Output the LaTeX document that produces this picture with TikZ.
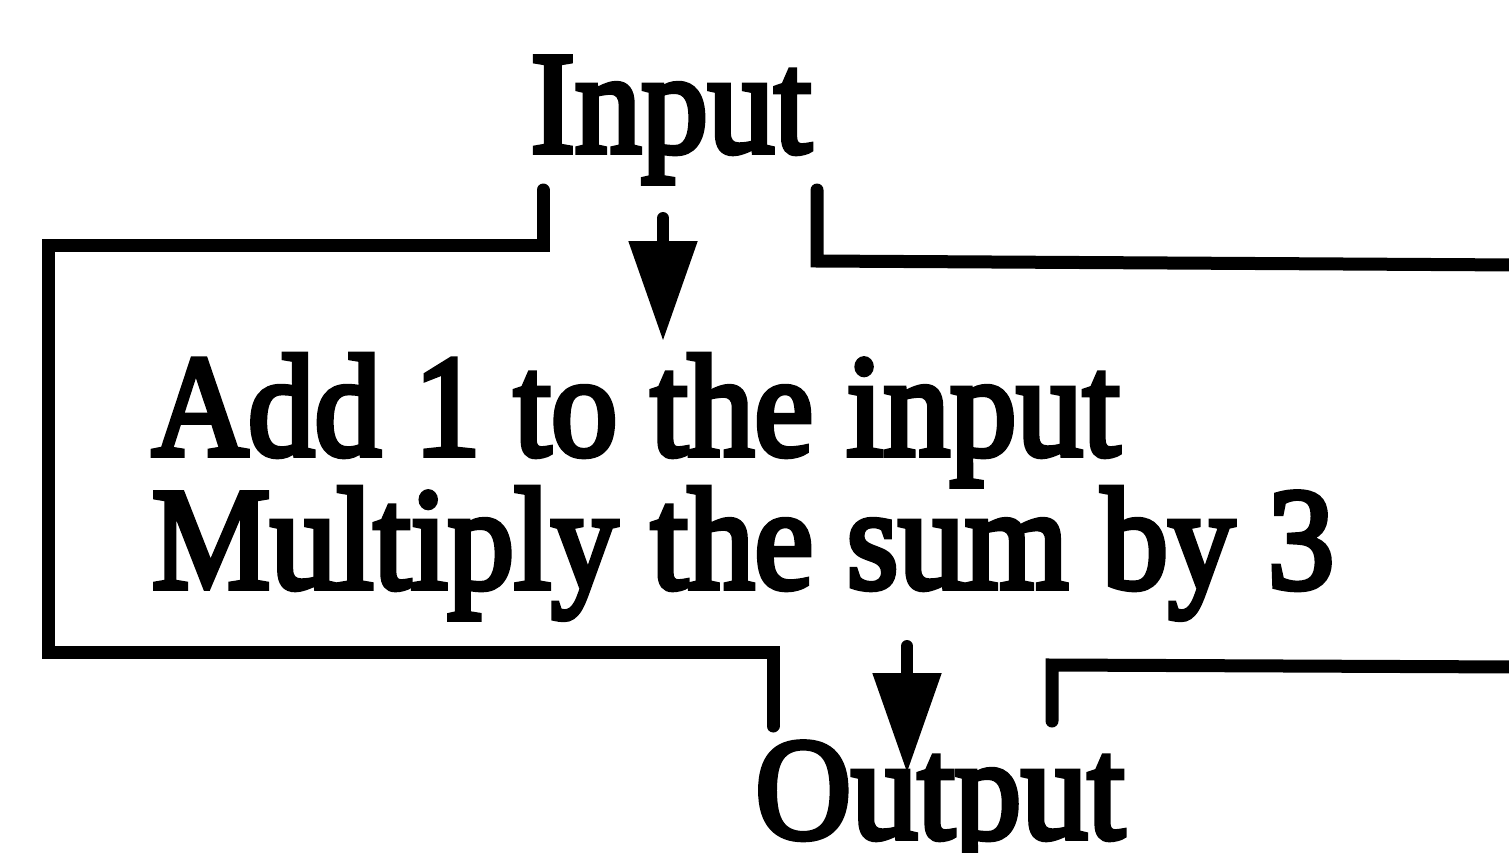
\documentclass[tikz,border=0pt]{standalone}
\usepackage{fontspec}
\setmainfont{Liberation Serif}[RawFeature={embolden=4}]
\usetikzlibrary{arrows.meta}
\tikzset{
  wire/.style={line width=13pt, line join=miter, line cap=round},
  flowarrow/.style={line width=12pt, -{Triangle[length=100pt,width=66pt]}, line cap=round},
  label/.style={inner sep=0pt, outer sep=0pt, font=\fontsize{133}{133}\selectfont}
}
\newcommand{\tallt}[1]{\scalebox{1}[1.09]{#1}}
\begin{document}
\begin{tikzpicture}[x=1pt,y=-1pt]
\useasboundingbox (0,0) rectangle (1509,852);
% texts
\node[label, anchor=base] (input) at (671,152) {\tallt{Input}};
\node[label, anchor=base west] (line1) at (152,455) {\tallt{Add 1 to the input}};
\node[label, anchor=base west] (line2) at (152,588) {\tallt{Multiply the sum by 3}};
\node[label, anchor=base] (output) at (940,838) {\tallt{Output}};
% frame coordinates
\coordinate (a1) at (543,190);
\coordinate (a2) at (543,245);
\coordinate (a3) at (48,245);
\coordinate (a4) at (48,652);
\coordinate (a5) at (773,652);
\coordinate (a6) at (773,726);
\coordinate (b1) at (817,190);
\coordinate (b2) at (817,261);
\coordinate (b3) at (1520,265);
\coordinate (c1) at (1052,721);
\coordinate (c2) at (1052,665);
\coordinate (c3) at (1520,667);
\draw[wire] (a1) -- (a2) -- (a3) -- (a4) -- (a5) -- (a6);
\draw[wire] (b1) -- (b2) -- (b3);
\draw[wire] (c1) -- (c2) -- (c3);
% arrows
\coordinate (in1) at (663,218);
\coordinate (in2) at (663,341);
\coordinate (out1) at (907,646);
\coordinate (out2) at (907,773);
\draw[flowarrow] (in1) -- (in2);
\draw[flowarrow] (out1) -- (out2);
\end{tikzpicture}
\end{document}
